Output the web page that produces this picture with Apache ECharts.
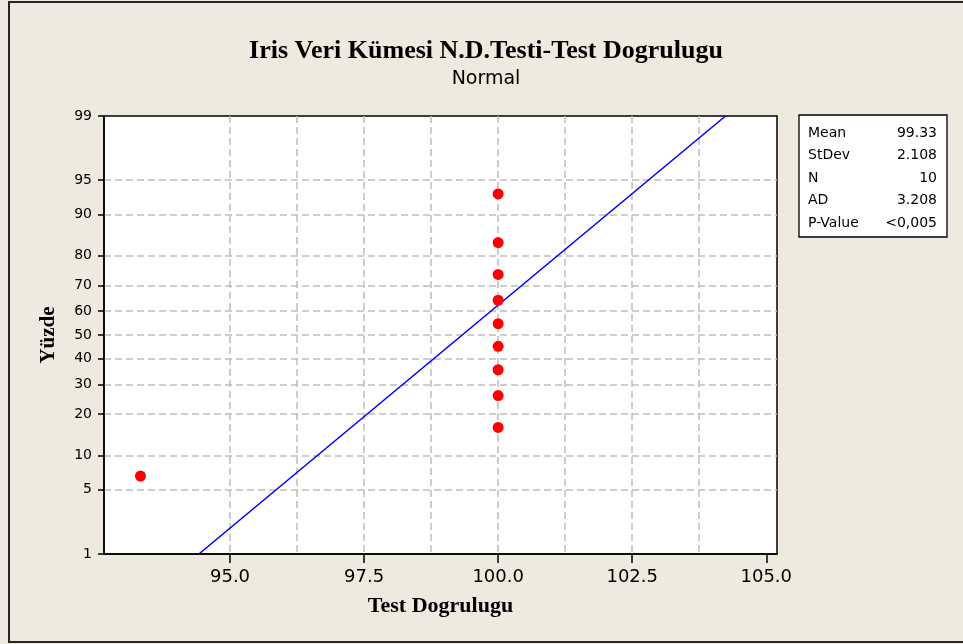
<!DOCTYPE html>
<html>
<head>
<meta charset="utf-8">
<script src="https://cdn.jsdelivr.net/npm/echarts@6/dist/echarts.min.js"></script>
<style>
  html, body { margin: 0; padding: 0; background: #EEEAE0; }
  #chart { width: 963px; height: 644px; }
</style>
</head>
<body>
<div id="chart"></div>
<script>
// Observed test-accuracy values and their median-rank plotting positions (%)
var sampleValues = [93.33, 100.0, 100.0, 100.0, 100.0, 100.0, 100.0, 100.0, 100.0, 100.0];
var samplePercents = [6.7, 16.3, 26.0, 35.6, 45.2, 54.8, 64.4, 74.0, 83.7, 93.3];

// Fitted normal line, given by its two ends (value, percent)
var fitValues = [94.42, 104.24];
var fitPercents = [1, 99];

// Probability-scale tick labels (%) and value-axis ticks / grid
var percentTicks = [1, 5, 10, 20, 30, 40, 50, 60, 70, 80, 90, 95, 99];
var valueTicks = [95.0, 97.5, 100.0, 102.5, 105.0];
var valueGrid = [93.75, 95.0, 96.25, 97.5, 98.75, 100.0, 101.25, 102.5, 103.75, 105.0];

// Summary statistics table
var statNames = ['Mean', 'StDev', 'N', 'AD', 'P-Value'];
var statValues = ['99.33', '2.108', '10', '3.208', '<0,005'];

// Inverse standard normal CDF (Acklam) used for the probability axis
function normInv(p) {
  var a = [-3.969683028665376e+01, 2.209460984245205e+02, -2.759285104469687e+02,
           1.383577518672690e+02, -3.066479806614716e+01, 2.506628277459239e+00];
  var b = [-5.447609879822406e+01, 1.615858368580409e+02, -1.556989798598866e+02,
           6.680131188771972e+01, -1.328068155288572e+01];
  var c = [-7.784894002430293e-03, -3.223964580411365e-01, -2.400758277161838e+00,
           -2.549732539343734e+00, 4.374664141464968e+00, 2.938163982698783e+00];
  var d = [7.784695709041462e-03, 3.224671290700398e-01, 2.445134137142996e+00,
           3.754408661907416e+00];
  var pl = 0.02425, q, r;
  if (p < pl) {
    q = Math.sqrt(-2 * Math.log(p));
    return (((((c[0]*q+c[1])*q+c[2])*q+c[3])*q+c[4])*q+c[5]) /
           ((((d[0]*q+d[1])*q+d[2])*q+d[3])*q+1);
  }
  if (p <= 1 - pl) {
    q = p - 0.5; r = q * q;
    return (((((a[0]*r+a[1])*r+a[2])*r+a[3])*r+a[4])*r+a[5])*q /
           (((((b[0]*r+b[1])*r+b[2])*r+b[3])*r+b[4])*r+1);
  }
  q = Math.sqrt(-2 * Math.log(1 - p));
  return -(((((c[0]*q+c[1])*q+c[2])*q+c[3])*q+c[4])*q+c[5]) /
          ((((d[0]*q+d[1])*q+d[2])*q+d[3])*q+1);
}
function z(pct) { return normInv(pct / 100); }

var zTicks = percentTicks.map(z);
function pctLabel(v) {
  for (var i = 0; i < zTicks.length; i++) {
    if (Math.abs(zTicks[i] - v) < 1e-6) return String(percentTicks[i]);
  }
  return '';
}

var points = sampleValues.map(function (v, i) { return [v, z(samplePercents[i])]; });
var fitLine = fitValues.map(function (v, i) { return [v, z(fitPercents[i])]; });

var gridLeft = 104, gridTop = 116, gridRight = 777, gridBottom = 554;

// Statistics box
var boxX = 799, boxY = 115, boxW = 148, boxH = 122, rowH = 22.6;
var statGraphics = [{
  type: 'rect', shape: { x: boxX, y: boxY, width: boxW, height: boxH },
  style: { fill: '#FFFFFF', stroke: '#000000', lineWidth: 1.3 }
}];
statNames.forEach(function (name, i) {
  var cy = boxY + 18 + i * rowH;
  statGraphics.push({
    type: 'text', x: boxX + 9, y: cy,
    style: { text: name, font: '14px "DejaVu Sans"', fill: '#000', verticalAlign: 'middle', align: 'left' }
  });
  statGraphics.push({
    type: 'text', x: boxX + boxW - 10, y: cy,
    style: { text: statValues[i], font: '14px "DejaVu Sans"', fill: '#000', verticalAlign: 'middle', align: 'right' }
  });
});

var gridLineStyle = { color: '#BDBDBD', width: 1.5, type: [7, 4] };

var chart = echarts.init(document.getElementById('chart'), null, { renderer: 'canvas' });
var option = {
  backgroundColor: '#EEEAE0',
  animation: false,
  title: {
    text: 'Iris Veri Kümesi N.D.Testi-Test Dogrulugu',
    subtext: 'Normal',
    left: 481,
    top: 33,
    textAlign: 'center',
    itemGap: 6,
    textStyle: { fontFamily: '"Liberation Serif"', fontWeight: 'bold', fontSize: 26, color: '#000' },
    subtextStyle: { fontFamily: '"DejaVu Sans"', fontSize: 19, color: '#000' }
  },
  grid: {
    left: gridLeft, top: gridTop, right: 963 - gridRight, bottom: 644 - gridBottom,
    show: true, backgroundColor: '#FFFFFF', borderColor: '#000000', borderWidth: 1.5
  },
  xAxis: [{
    type: 'value', min: 92.65, max: 105.2, position: 'bottom',
    name: 'Test Dogrulugu', nameLocation: 'middle', nameGap: 41,
    nameTextStyle: { fontFamily: '"Liberation Serif"', fontWeight: 'bold', fontSize: 22, color: '#000' },
    axisLine: { show: true, onZero: false, lineStyle: { color: '#000', width: 1.5 } },
    axisTick: { show: true, length: 9, customValues: valueTicks, lineStyle: { color: '#000', width: 1.5 } },
    axisLabel: { customValues: valueTicks, margin: 14, fontFamily: '"DejaVu Sans"', fontSize: 18, color: '#000',
      formatter: function (v) { return v.toFixed(1); } },
    splitLine: { show: false }
  }, {
    type: 'value', min: 92.65, max: 105.2, position: 'bottom',
    axisLine: { show: false, onZero: false }, axisLabel: { show: false },
    axisTick: { show: false, customValues: valueGrid },
    splitLine: { show: true, showMinLine: false, showMaxLine: false, lineStyle: gridLineStyle }
  }],
  yAxis: {
    type: 'value', min: z(1), max: z(99),
    name: 'Yüzde', nameLocation: 'middle', nameGap: 45, nameRotate: 90,
    nameTextStyle: { fontFamily: '"Liberation Serif"', fontWeight: 'bold', fontSize: 21, color: '#000' },
    axisLine: { show: true, onZero: false, lineStyle: { color: '#000', width: 1.5 } },
    axisTick: { show: true, length: 6, customValues: zTicks, lineStyle: { color: '#000', width: 1.5 } },
    axisLabel: { customValues: zTicks, margin: 12, fontFamily: '"DejaVu Sans"', fontSize: 14, color: '#000',
      formatter: pctLabel },
    splitLine: { show: true, showMinLine: false, showMaxLine: false, lineStyle: gridLineStyle }
  },
  series: [{
    type: 'line', data: fitLine, xAxisIndex: 0, showSymbol: false, symbol: 'none',
    lineStyle: { color: '#0000FF', width: 1.6 }, z: 3, silent: true
  }, {
    type: 'scatter', data: points, xAxisIndex: 0, symbol: 'circle', symbolSize: 11,
    itemStyle: { color: '#FF0000', opacity: 1 }, z: 4, silent: true
  }],
  graphic: [{
    type: 'rect', shape: { x: 9, y: 2, width: 1000, height: 640 },
    style: { fill: null, stroke: '#262626', lineWidth: 2 }, silent: true
  }, {
    type: 'group', children: statGraphics
  }]
};
chart.setOption(option);
</script>
</body>
</html>
